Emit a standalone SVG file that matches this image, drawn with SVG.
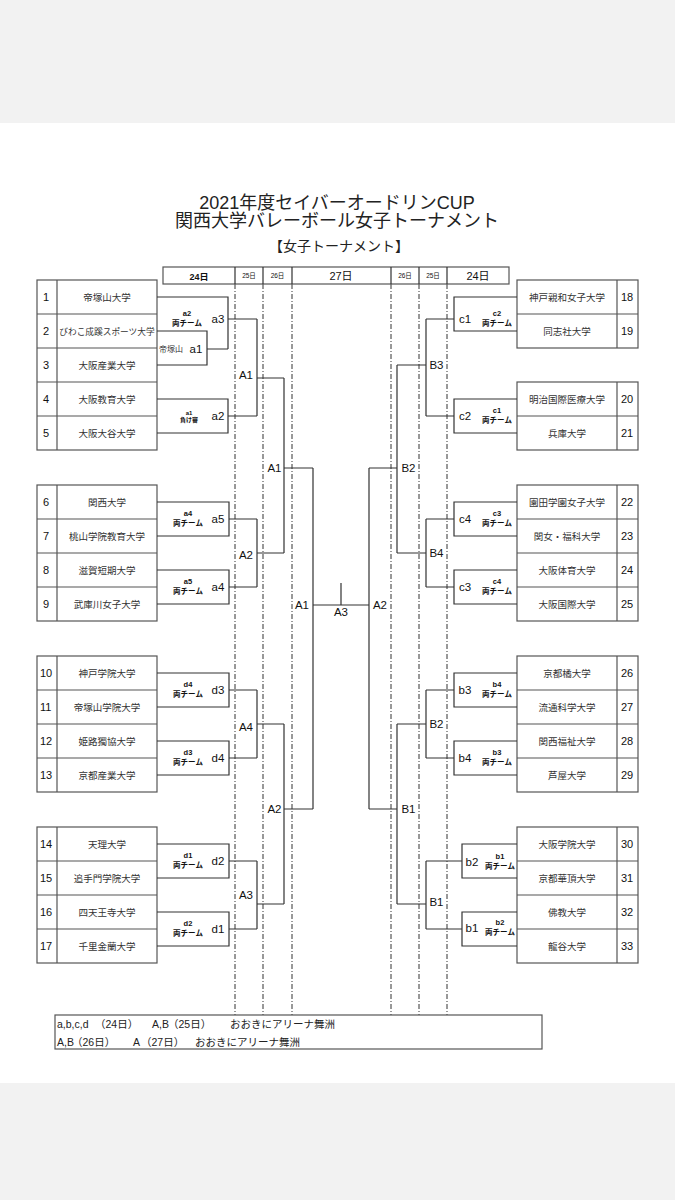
<svg xmlns="http://www.w3.org/2000/svg" width="675" height="1200" viewBox="0 0 675 1200">
<style>
text{font-family:"Liberation Sans","Noto Sans CJK JP",sans-serif;fill:#222}
.t{font-size:18px;text-anchor:middle}
.st{font-size:14px;text-anchor:middle}
.nm{font-size:9.5px;text-anchor:middle;fill:#333}
.no{font-size:11px;fill:#111}
.lb{font-size:11.5px;text-anchor:middle;fill:#111}
.sm{font-size:7.5px;text-anchor:middle;font-weight:bold;fill:#111}
.hd{text-anchor:middle;fill:#111}
.ln{fill:none;stroke:#333;stroke-width:1.2}
.bx{fill:#fff;stroke:#555;stroke-width:1.2}
.dl{stroke:#333;stroke-width:1;stroke-dasharray:5 2 1 2;fill:none}
.nt{font-size:10.5px;fill:#222}
</style>
<rect x="0" y="0" width="675" height="1200" fill="#f2f2f2"/>
<rect x="0" y="123" width="675" height="960" fill="#fff"/>

<g id="title">
<text class="t" x="337" y="209">2021年度セイバーオードリンCUP</text>
<text class="t" x="337" y="227">関西大学バレーボール女子トーナメント</text>
<text class="st" x="339" y="251">【女子トーナメント】</text>
</g>

<g id="dashes">
<path class="dl" d="M235,284V1015M263,284V1015M292,284V1015M391,284V1015M419,284V1015M447,284V1015"/>
</g>

<g id="header">
<rect class="bx" x="163" y="267" width="346" height="17"/>
<path class="ln" d="M235,267V284M263,267V284M292,267V284M391,267V284M419,267V284M447,267V284"/>
<text class="hd" x="199" y="279.5" style="font-size:9px;font-weight:bold">24日</text>
<text class="hd" x="249" y="278" style="font-size:6.5px">25日</text>
<text class="hd" x="277.5" y="278" style="font-size:6.5px">26日</text>
<text class="hd" x="341" y="280" style="font-size:11px">27日</text>
<text class="hd" x="405" y="278" style="font-size:6.5px">26日</text>
<text class="hd" x="433" y="278" style="font-size:6.5px">25日</text>
<text class="hd" x="478" y="280" style="font-size:11px">24日</text>
</g>

<g id="left-teams">
<rect class="bx" x="37" y="280" width="120" height="170"/>
<rect class="bx" x="37" y="485" width="120" height="136"/>
<rect class="bx" x="37" y="656" width="120" height="136"/>
<rect class="bx" x="37" y="827" width="120" height="136"/>
<path class="ln" style="stroke:#555" d="M57,280V450M37,314H157M37,348H157M37,382H157M37,416H157
M57,485V621M37,519H157M37,553H157M37,587H157
M57,656V792M37,690H157M37,724H157M37,758H157
M57,827V963M37,861H157M37,895H157M37,929H157"/>
<g id="t1"><text class="no" x="43" y="301">1</text><text class="nm" x="107" y="300.5">帝塚山大学</text></g>
<g id="t2"><text class="no" x="43" y="335">2</text><text class="nm" x="107" y="334.5" style="font-size:8.7px">びわこ成蹊スポーツ大学</text></g>
<g id="t3"><text class="no" x="43" y="369">3</text><text class="nm" x="107" y="368.5">大阪産業大学</text></g>
<g id="t4"><text class="no" x="43" y="403">4</text><text class="nm" x="107" y="402.5">大阪教育大学</text></g>
<g id="t5"><text class="no" x="43" y="437">5</text><text class="nm" x="107" y="436.5">大阪大谷大学</text></g>
<g id="t6"><text class="no" x="43" y="506">6</text><text class="nm" x="107" y="505.5">関西大学</text></g>
<g id="t7"><text class="no" x="43" y="540">7</text><text class="nm" x="107" y="539.5">桃山学院教育大学</text></g>
<g id="t8"><text class="no" x="43" y="574">8</text><text class="nm" x="107" y="573.5">滋賀短期大学</text></g>
<g id="t9"><text class="no" x="43" y="608">9</text><text class="nm" x="107" y="607.5">武庫川女子大学</text></g>
<g id="t10"><text class="no" x="40" y="677">10</text><text class="nm" x="107" y="676.5">神戸学院大学</text></g>
<g id="t11"><text class="no" x="40" y="711">11</text><text class="nm" x="107" y="710.5">帝塚山学院大学</text></g>
<g id="t12"><text class="no" x="40" y="745">12</text><text class="nm" x="107" y="744.5">姫路獨協大学</text></g>
<g id="t13"><text class="no" x="40" y="779">13</text><text class="nm" x="107" y="778.5">京都産業大学</text></g>
<g id="t14"><text class="no" x="40" y="848">14</text><text class="nm" x="107" y="847.5">天理大学</text></g>
<g id="t15"><text class="no" x="40" y="882">15</text><text class="nm" x="107" y="881.5">追手門学院大学</text></g>
<g id="t16"><text class="no" x="40" y="916">16</text><text class="nm" x="107" y="915.5">四天王寺大学</text></g>
<g id="t17"><text class="no" x="40" y="950">17</text><text class="nm" x="107" y="949.5">千里金蘭大学</text></g>
</g>

<g id="right-teams">
<rect class="bx" x="517" y="280" width="121" height="68"/>
<rect class="bx" x="517" y="382" width="121" height="68"/>
<rect class="bx" x="517" y="485" width="121" height="136"/>
<rect class="bx" x="517" y="656" width="121" height="136"/>
<rect class="bx" x="517" y="827" width="121" height="136"/>
<path class="ln" style="stroke:#555" d="M617,280V348M517,314H638M617,382V450M517,416H638
M617,485V621M517,519H638M517,553H638M517,587H638
M617,656V792M517,690H638M517,724H638M517,758H638
M617,827V963M517,861H638M517,895H638M517,929H638"/>
<g id="t18"><text class="nm" x="567" y="300.5">神戸親和女子大学</text><text class="no" x="621" y="301">18</text></g>
<g id="t19"><text class="nm" x="567" y="334.5">同志社大学</text><text class="no" x="621" y="335">19</text></g>
<g id="t20"><text class="nm" x="567" y="402.5">明治国際医療大学</text><text class="no" x="621" y="403">20</text></g>
<g id="t21"><text class="nm" x="567" y="436.5">兵庫大学</text><text class="no" x="621" y="437">21</text></g>
<g id="t22"><text class="nm" x="567" y="505.5">園田学園女子大学</text><text class="no" x="621" y="506">22</text></g>
<g id="t23"><text class="nm" x="567" y="539.5">関女・福科大学</text><text class="no" x="621" y="540">23</text></g>
<g id="t24"><text class="nm" x="567" y="573.5">大阪体育大学</text><text class="no" x="621" y="574">24</text></g>
<g id="t25"><text class="nm" x="567" y="607.5">大阪国際大学</text><text class="no" x="621" y="608">25</text></g>
<g id="t26"><text class="nm" x="567" y="676.5">京都橘大学</text><text class="no" x="621" y="677">26</text></g>
<g id="t27"><text class="nm" x="567" y="710.5">流通科学大学</text><text class="no" x="621" y="711">27</text></g>
<g id="t28"><text class="nm" x="567" y="744.5">関西福祉大学</text><text class="no" x="621" y="745">28</text></g>
<g id="t29"><text class="nm" x="567" y="778.5">芦屋大学</text><text class="no" x="621" y="779">29</text></g>
<g id="t30"><text class="nm" x="567" y="847.5">大阪学院大学</text><text class="no" x="621" y="848">30</text></g>
<g id="t31"><text class="nm" x="567" y="881.5">京都華頂大学</text><text class="no" x="621" y="882">31</text></g>
<g id="t32"><text class="nm" x="567" y="915.5">佛教大学</text><text class="no" x="621" y="916">32</text></g>
<g id="t33"><text class="nm" x="567" y="949.5">龍谷大学</text><text class="no" x="621" y="950">33</text></g>
</g>

<g id="connectors">
<path class="ln" d="
M157,297H228V349M207,349H228M157,331H207V365H157M228,319H257
M157,399H228V433H157M228,416H257
M257,319V416M257,378H284
M157,502H229V536H157M229,519H257
M157,570H229V604H157M229,587H257
M257,519V587M257,553H284
M284,378V553M284,468H313
M157,673H229V707H157M229,690H257
M157,741H229V775H157M229,758H257
M257,690V758M257,724H284
M157,844H229V878H157M229,861H257
M157,912H229V946H157M229,929H257
M257,861V929M257,904H284
M284,724V904M284,809H313
M313,468V809M313,605H369M341,583V605
M369,468V809M369,468H397M369,809H397
M397,365V553M397,365H426M397,553H426
M426,319V416M426,319H454M426,416H454
M517,297H454V331H517M517,399H454V433H517
M426,519V587M426,519H454M426,587H454
M517,502H454V536H517M517,570H454V604H517
M397,724V904M397,724H426M397,904H426
M426,690V758M426,690H454M426,758H454
M517,673H454V707H517M517,741H454V775H517
M426,861V929M426,861H462M426,929H462
M517,844H462V878H517M517,912H462V946H517"/>
</g>

<g id="labels">
<text class="lb" x="218" y="323">a3</text>
<text class="sm" x="187" y="316">a2</text><text class="sm" x="187" y="326">両チーム</text>
<text class="lb" x="196" y="353">a1</text>
<text x="171" y="352" style="font-size:8px;text-anchor:middle;fill:#333">帝塚山</text>
<text class="sm" x="189" y="415" style="font-size:6px">a1</text><text class="sm" x="189" y="422" style="font-size:6px">負け審</text>
<text class="lb" x="218" y="420">a2</text>
<text class="lb" x="218" y="523">a5</text>
<text class="sm" x="188" y="516">a4</text><text class="sm" x="188" y="526">両チーム</text>
<text class="lb" x="218" y="591">a4</text>
<text class="sm" x="188" y="584">a5</text><text class="sm" x="188" y="594">両チーム</text>
<text class="lb" x="218" y="694">d3</text>
<text class="sm" x="188" y="687">d4</text><text class="sm" x="188" y="697">両チーム</text>
<text class="lb" x="218" y="762">d4</text>
<text class="sm" x="188" y="755">d3</text><text class="sm" x="188" y="765">両チーム</text>
<text class="lb" x="218" y="865">d2</text>
<text class="sm" x="188" y="858">d1</text><text class="sm" x="188" y="868">両チーム</text>
<text class="lb" x="218" y="933">d1</text>
<text class="sm" x="188" y="926">d2</text><text class="sm" x="188" y="936">両チーム</text>
<text class="lb" x="246" y="379">A1</text>
<text class="lb" x="246" y="559">A2</text>
<text class="lb" x="246" y="731">A4</text>
<text class="lb" x="246" y="899">A3</text>
<text class="lb" x="274.5" y="472">A1</text>
<text class="lb" x="274.5" y="813">A2</text>
<text class="lb" x="302" y="609">A1</text>
<text class="lb" x="380" y="609">A2</text>
<text class="lb" x="341" y="616">A3</text>
<text class="lb" x="408.5" y="472">B2</text>
<text class="lb" x="408.5" y="813">B1</text>
<text class="lb" x="436.5" y="369">B3</text>
<text class="lb" x="436.5" y="557">B4</text>
<text class="lb" x="436.5" y="728">B2</text>
<text class="lb" x="436.5" y="906">B1</text>
<text class="lb" x="465" y="323">c1</text>
<text class="sm" x="497" y="316">c2</text><text class="sm" x="497" y="326">両チーム</text>
<text class="lb" x="465" y="420">c2</text>
<text class="sm" x="497" y="413">c1</text><text class="sm" x="497" y="423">両チーム</text>
<text class="lb" x="465" y="523">c4</text>
<text class="sm" x="497" y="516">c3</text><text class="sm" x="497" y="526">両チーム</text>
<text class="lb" x="465" y="591">c3</text>
<text class="sm" x="497" y="584">c4</text><text class="sm" x="497" y="594">両チーム</text>
<text class="lb" x="465" y="694">b3</text>
<text class="sm" x="497" y="687">b4</text><text class="sm" x="497" y="697">両チーム</text>
<text class="lb" x="465" y="762">b4</text>
<text class="sm" x="497" y="755">b3</text><text class="sm" x="497" y="765">両チーム</text>
<text class="lb" x="472" y="866">b2</text>
<text class="sm" x="500" y="859">b1</text><text class="sm" x="500" y="869">両チーム</text>
<text class="lb" x="472" y="932">b1</text>
<text class="sm" x="500" y="925">b2</text><text class="sm" x="500" y="935">両チーム</text>
</g>

<g id="note">
<rect class="bx" x="55" y="1015" width="487" height="34"/>
<text class="nt" y="1028"><tspan x="57">a,b,c,d</tspan><tspan x="95">（24日）</tspan><tspan x="152">A,B</tspan><tspan x="168">（25日）</tspan><tspan x="230">おおきにアリーナ舞洲</tspan></text>
<text class="nt" y="1046"><tspan x="57">A,B</tspan><tspan x="72">（26日）</tspan><tspan x="133">A</tspan><tspan x="141">（27日）</tspan><tspan x="195">おおきにアリーナ舞洲</tspan></text>
</g>
</svg>
